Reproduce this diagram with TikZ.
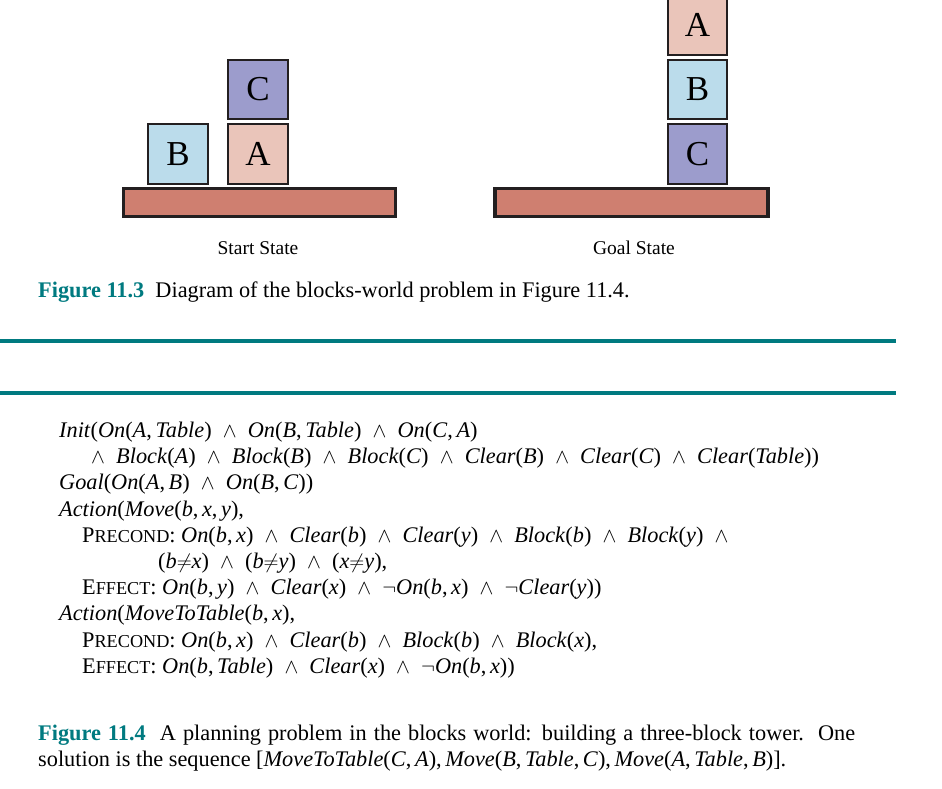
\documentclass[tikz,border=0pt]{standalone}
\usepackage{fontspec}
\setmainfont{Liberation Serif}
\definecolor{blkA}{HTML}{EAC5BA}
\definecolor{blkB}{HTML}{BBDCEB}
\definecolor{blkC}{HTML}{9C9CCC}
\definecolor{tablec}{HTML}{CF7F70}
\definecolor{edgec}{HTML}{231F20}
\definecolor{teal}{HTML}{007A80}
\newcommand{\vv}[1]{\textit{#1}}
\newcommand{\andd}{\hspace{0.5em}$\wedge$\hspace{0.5em}}
\newcommand{\cm}{,\kern0.16em}
\newcommand{\nott}{$\neg$}
\newcommand{\fsc}[2]{#1{\fontsize{18.2}{18}\selectfont#2}}
\tikzset{
  block/.style={draw=edgec, line width=2pt, minimum width=59.5pt, minimum height=59.5pt,
    inner sep=0pt, font=\fontsize{35}{35}\selectfont},
  tablebox/.style={draw=edgec, line width=3.5pt, fill=tablec, minimum width=272pt,
    minimum height=28pt, inner sep=0pt},
  lbl/.style={font=\fontsize{19.5}{20}\selectfont, inner sep=0pt, anchor=base},
  txt/.style={font=\fontsize{22.3}{24}\selectfont, inner sep=0pt, anchor=base west},
  rule/.style={draw=teal, line width=4pt}
}
\begin{document}
\begin{tikzpicture}[x=1pt,y=-1pt]
\useasboundingbox (0,0) rectangle (942,788);
\clip (0,0) rectangle (942,788);
% start state
\node[tablebox] (t1) at (259.5,202.5) {};
\node[block, fill=blkB] (sB) at (178,154) {B};
\node[block, fill=blkA] (sA) at (258,154) {A};
\node[block, fill=blkC] (sC) at (258,89.5) {C};
\node[lbl] (sl) at (258,254) {Start State};
% goal state
\node[tablebox, minimum width=273pt] (t2) at (631.5,202.5) {};
\node[block, fill=blkC] (gC) at (697.5,154) {C};
\node[block, fill=blkB] (gB) at (697.5,89.5) {B};
\node[block, fill=blkA] (gA) at (697.5,25) {A};
\node[lbl] (gl) at (634,254) {Goal State};
% caption 11.3
\node[txt] (cap1) at (38,297) {\textcolor{teal}{\textbf{Figure 11.3}}\ \ Diagram of the blocks-world problem in Figure 11.4.};
% rules
\coordinate (r1a) at (0,341); \coordinate (r1b) at (896,341);
\coordinate (r2a) at (0,393); \coordinate (r2b) at (896,393);
\draw[rule] (r1a) -- (r1b);
\draw[rule] (r2a) -- (r2b);
% problem text
\node[txt] (l1) at (59,437.5) {\vv{Init}(\vv{On}(\vv{A}\cm\vv{Table})\andd\vv{On}(\vv{B}\cm\vv{Table})\andd\vv{On}(\vv{C}\cm\vv{A})};
\node[txt] (l2) at (91,463.7) {$\wedge$\hspace{0.5em}\vv{Block}(\vv{A})\andd\vv{Block}(\vv{B})\andd\vv{Block}(\vv{C})\andd\vv{Clear}(\vv{B})\andd\vv{Clear}(\vv{C})\andd\vv{Clear}(\vv{Table}))};
\node[txt] (l3) at (59,489.9) {\vv{Goal}(\vv{On}(\vv{A}\cm\vv{B})\andd\vv{On}(\vv{B}\cm\vv{C}))};
\node[txt] (l4) at (59,516.1) {\vv{Action}(\vv{Move}(\vv{b}\cm\vv{x}\cm\vv{y}),};
\node[txt] (l5) at (82,542.3) {\fsc{P}{RECOND}: \vv{On}(\vv{b}\cm\vv{x})\andd\vv{Clear}(\vv{b})\andd\vv{Clear}(\vv{y})\andd\vv{Block}(\vv{b})\andd\vv{Block}(\vv{y})\andd};
\node[txt] (l6) at (158,568.5) {(\vv{b}$\neq$\vv{x})\andd(\vv{b}$\neq$\vv{y})\andd(\vv{x}$\neq$\vv{y}),};
\node[txt] (l7) at (82,594.7) {\fsc{E}{FFECT}: \vv{On}(\vv{b}\cm\vv{y})\andd\vv{Clear}(\vv{x})\andd\nott\vv{On}(\vv{b}\cm\vv{x})\andd\nott\vv{Clear}(\vv{y}))};
\node[txt] (l8) at (59,620.9) {\vv{Action}(\vv{MoveToTable}(\vv{b}\cm\vv{x}),};
\node[txt] (l9) at (82,647.1) {\fsc{P}{RECOND}: \vv{On}(\vv{b}\cm\vv{x})\andd\vv{Clear}(\vv{b})\andd\vv{Block}(\vv{b})\andd\vv{Block}(\vv{x}),};
\node[txt] (l10) at (82,673.3) {\fsc{E}{FFECT}: \vv{On}(\vv{b}\cm\vv{Table})\andd\vv{Clear}(\vv{x})\andd\nott\vv{On}(\vv{b}\cm\vv{x}))};
% caption 11.4
\node[txt] (cap2a) at (38,740) {\makebox[817pt][s]{\textcolor{teal}{\textbf{Figure 11.4}}\ \ A planning problem in the blocks world: building a three-block tower.\ \ One}};
\node[txt] (cap2b) at (38,766.7) {solution is the sequence [\vv{MoveToTable}(\vv{C}\cm\vv{A})\cm\vv{Move}(\vv{B}\cm\vv{Table}\cm\vv{C})\cm\vv{Move}(\vv{A}\cm\vv{Table}\cm\vv{B})].};
\end{tikzpicture}
\end{document}
